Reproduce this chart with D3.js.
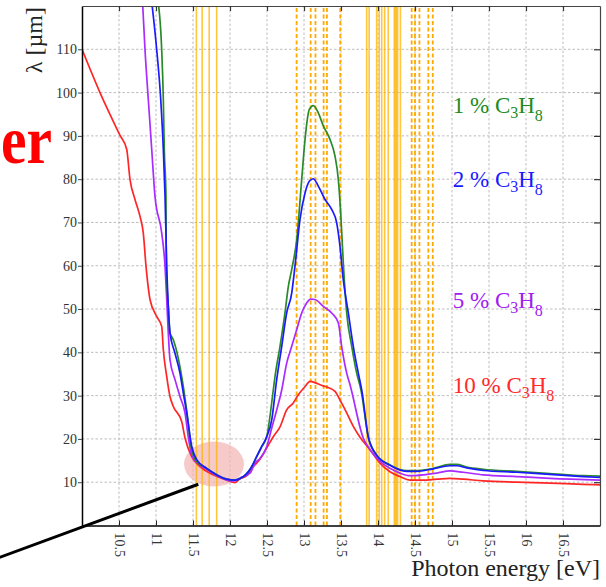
<!DOCTYPE html>
<html><head><meta charset="utf-8">
<script src="https://cdn.jsdelivr.net/npm/d3@7"></script>
<style>
body{margin:0;background:#fff}
svg{display:block}
text{font-family:"Liberation Serif","DejaVu Serif",serif}
</style>
</head><body>
<svg id="chart" width="606" height="587"></svg>
<script>
// ---------- data ----------
const xTicks = [10.5,11,11.5,12,12.5,13,13.5,14,14.5,15,15.5,16,16.5];
const yTicks = [10,20,30,40,50,60,70,80,90,100,110];

// orange reference lines (eV)
const solidLines = [11.546,11.624,11.719,11.82,13.847,13.88,13.982,14.016,14.05,14.09,14.138,14.22,14.235,14.25,14.265,14.303];
const dashedLines = [12.90,13.09,13.155,13.265,13.31,13.49,14.455,14.50,14.56,14.68,14.74];

// attenuation length λ [µm] vs photon energy [eV]
const c3h8_1 = [[11.02,122],[11.077,109.9],[11.099,98.4],[11.112,86.9],[11.135,76.1],[11.139,59.9],[11.166,50.6],[11.189,44.5],[11.234,42.9],[11.369,32.1],[11.419,26.0],[11.482,17.5],[11.55,14.8],[11.685,13.2],[11.82,11.7],[11.955,10.7],[12.068,10.5],[12.18,11.3],[12.247,12.4],[12.293,13.6],[12.36,15.9],[12.428,18.2],[12.496,20.5],[12.585,31.3],[12.608,34.4],[12.676,41.4],[12.743,49.1],[12.788,55.2],[12.834,59.1],[12.901,66.0],[12.969,79.9],[13.014,89.2],[13.072,96.1],[13.126,97.0],[13.193,95.3],[13.261,92.3],[13.351,89.2],[13.419,85.3],[13.464,79.9],[13.496,72.2],[13.531,60.7],[13.577,49.1],[13.645,41.4],[13.712,35.2],[13.77,31.3],[13.869,20.5],[13.982,16.3],[14.162,14.0],[14.388,12.7],[14.523,12.7],[14.747,13.2],[14.973,14.1],[15.063,14.1],[15.199,13.5],[15.423,13.0],[15.874,12.5],[16.324,12.0],[16.774,11.5],[17.0,11.4]];
const c3h8_2 = [[10.935,122],[11.009,110.0],[11.064,98.4],[11.099,86.9],[11.122,76.1],[11.145,59.9],[11.166,50.6],[11.189,44.5],[11.257,39.8],[11.324,35.2],[11.369,30.6],[11.415,26.0],[11.482,18.3],[11.55,15.2],[11.685,13.2],[11.82,11.7],[11.955,10.7],[12.068,10.5],[12.18,11.3],[12.247,12.4],[12.293,13.6],[12.36,15.9],[12.428,18.2],[12.496,20.5],[12.564,24.4],[12.631,33.7],[12.699,41.4],[12.766,49.1],[12.834,53.7],[12.878,59.9],[12.946,70.7],[13.014,76.8],[13.072,79.5],[13.126,80.1],[13.193,78.4],[13.284,75.3],[13.374,73.0],[13.442,69.9],[13.486,64.5],[13.531,56.8],[13.599,49.1],[13.666,41.4],[13.734,35.2],[13.784,30.9],[13.869,20.4],[13.982,16.2],[14.162,13.9],[14.388,12.5],[14.523,12.5],[14.747,13.1],[14.973,13.8],[15.063,13.8],[15.199,13.3],[15.423,12.7],[15.874,12.3],[16.324,11.8],[16.774,11.3],[17.0,11.1]];
const c3h8_5 = [[10.815,122],[10.851,110.0],[10.896,98.4],[10.942,86.9],[10.986,76.1],[11.077,67.6],[11.122,59.9],[11.145,52.2],[11.166,44.5],[11.189,38.3],[11.257,33.7],[11.324,29.8],[11.392,26.0],[11.436,20.5],[11.482,16.3],[11.55,14.6],[11.685,13.0],[11.82,11.5],[11.955,10.5],[12.068,10.3],[12.135,11.0],[12.27,12.1],[12.338,14.4],[12.405,15.5],[12.496,18.2],[12.564,22.5],[12.631,26.7],[12.699,31.3],[12.766,37.5],[12.834,41.4],[12.901,45.2],[12.969,49.1],[13.036,51.4],[13.09,52.3],[13.149,52.2],[13.261,50.6],[13.374,49.1],[13.464,46.8],[13.509,41.4],[13.577,35.2],[13.622,32.5],[13.801,20.2],[13.892,17.5],[14.027,14.8],[14.162,13.2],[14.297,12.1],[14.432,11.5],[14.612,11.7],[14.793,12.1],[14.973,12.6],[15.153,12.3],[15.423,11.7],[15.874,11.3],[16.324,10.9],[17.0,10.5]];
const c3h8_10 = [[10.0,110.0],[10.243,100.0],[10.514,90.1],[10.604,86.9],[10.649,79.9],[10.716,75.3],[10.784,71.4],[10.828,67.6],[10.865,59.9],[10.919,52.2],[11.009,48.3],[11.077,46.0],[11.099,40.6],[11.145,34.4],[11.189,29.8],[11.234,27.5],[11.347,24.0],[11.392,20.2],[11.482,15.9],[11.595,13.6],[11.774,11.7],[11.955,10.5],[12.068,9.9],[12.135,10.8],[12.226,11.5],[12.293,13.2],[12.36,14.4],[12.428,15.9],[12.496,17.9],[12.585,20.5],[12.676,22.8],[12.766,26.7],[12.855,28.3],[12.923,30.2],[13.014,32.1],[13.081,33.3],[13.149,33.0],[13.216,32.5],[13.307,32.0],[13.419,31.0],[13.486,29.0],[13.577,26.0],[13.666,22.9],[13.757,20.4],[13.892,17.5],[14.027,14.4],[14.162,12.4],[14.297,11.3],[14.432,10.5],[14.612,10.5],[14.793,10.7],[14.973,10.9],[15.153,10.7],[15.423,10.3],[15.874,10.0],[16.324,9.8],[16.774,9.5],[17.0,9.4]];

const seriesColors = ["#ff2626","#aa2bff","#2a8a2a","#1a1aff"];
const seriesData = [c3h8_10, c3h8_5, c3h8_1, c3h8_2];

// legend labels: [percent, color, energy, lambda]
const legendItems = [["1","#228b22",15.01,95.2],["2","#1a1aff",15.01,78.1],["5","#a020f0",15.01,50.2],["10","#ff2a2a",15.01,30.6]];

// annotations (data units)
const highlight = {e:11.784, v:14.2, re:0.405, rv:5.2};
const pointer = [[8.85,-7.6],[11.572,9.53]];

// ---------- drawing ----------
const svg = d3.select("#chart");
const W = 606, H = 587;
const m = {l:82, r:6, t:6, b:61.5};
const x = d3.scaleLinear([10,17],[m.l, W-m.r]);
const y = d3.scaleLinear([0,120],[H-m.b, m.t]);

svg.append("defs").append("clipPath").attr("id","clip")
  .append("rect").attr("x",m.l).attr("y",m.t).attr("width",W-m.l-m.r).attr("height",H-m.t-m.b);

// grid
const grid = svg.append("g").attr("stroke","#bdbdbd").attr("stroke-width",1).attr("stroke-dasharray","2.5,2");
grid.selectAll(".gx").data(xTicks).join("line")
  .attr("x1",d=>x(d)).attr("x2",d=>x(d)).attr("y1",y(0)).attr("y2",y(120));
grid.selectAll(".gy").data(yTicks).join("line")
  .attr("x1",x(10)).attr("x2",x(17)).attr("y1",d=>y(d)).attr("y2",d=>y(d));

// highlight ellipse
svg.append("ellipse")
  .attr("cx",x(highlight.e)).attr("cy",y(highlight.v))
  .attr("rx",x(highlight.e+highlight.re)-x(highlight.e))
  .attr("ry",y(highlight.v-highlight.rv)-y(highlight.v))
  .attr("fill","#f3b3b3").attr("opacity",0.7);

// orange lines
const ol = svg.append("g");
ol.selectAll(".s").data(solidLines).join("line")
  .attr("x1",d=>x(d)).attr("x2",d=>x(d)).attr("y1",y(0)).attr("y2",y(120))
  .attr("stroke","#ffb300").attr("stroke-opacity",0.75).attr("stroke-width",1.6);
ol.selectAll(".d").data(dashedLines).join("line")
  .attr("x1",d=>x(d)).attr("x2",d=>x(d)).attr("y1",y(0)).attr("y2",y(120))
  .attr("stroke","#ffaa00").attr("stroke-width",1.8).attr("stroke-dasharray","4,2.5");

// curves
const line = d3.line().x(d=>x(d[0])).y(d=>y(d[1])).curve(d3.curveMonotoneX);
const cg = svg.append("g").attr("clip-path","url(#clip)");
cg.selectAll("path").data(seriesData).join("path")
  .attr("d",line).attr("fill","none")
  .attr("stroke",(d,i)=>seriesColors[i]).attr("stroke-width",1.7);

// axes
const fmt = d=>String(d);
const gB = svg.append("g").attr("transform",`translate(0,${y(0)})`)
  .call(d3.axisBottom(x).tickValues(xTicks).tickSizeInner(-5).tickSizeOuter(0).tickFormat(fmt));
gB.selectAll("text").attr("transform","rotate(90)").attr("x",7).attr("y",0).attr("dy","0.35em")
  .attr("text-anchor","start").attr("font-size",14).attr("fill","#333");
gB.select(".domain").attr("stroke","#000").attr("stroke-width",1.5);
gB.selectAll(".tick line").attr("stroke","#222");

const gL = svg.append("g").attr("transform",`translate(${x(10)},0)`)
  .call(d3.axisLeft(y).tickValues(yTicks).tickSizeInner(4).tickSizeOuter(0).tickPadding(1).tickFormat(fmt));
gL.selectAll("text").attr("font-size",14).attr("fill","#333");
gL.select(".domain").attr("stroke","#000").attr("stroke-width",1.5);
gL.selectAll(".tick line").attr("stroke","#444");

const gT = svg.append("g").attr("transform",`translate(0,${y(120)})`)
  .call(d3.axisTop(x).tickValues(xTicks).tickSizeInner(-5).tickSizeOuter(0).tickFormat(""));
gT.select(".domain").attr("stroke","#444").attr("stroke-width",1.2);
gT.selectAll(".tick line").attr("stroke","#333").attr("stroke-width",1.2);

const gR = svg.append("g").attr("transform",`translate(${x(17)},0)`)
  .call(d3.axisRight(y).tickValues(yTicks).tickSizeInner(-6).tickSizeOuter(0).tickFormat(""));
gR.select(".domain").attr("stroke","#444").attr("stroke-width",1.2);
gR.selectAll(".tick line").attr("stroke","#333").attr("stroke-width",1.2);

// axis titles
svg.append("text").attr("transform",`translate(42,${y(120)+1}) rotate(-90)`)
  .attr("text-anchor","end").attr("font-size",24).attr("fill","#222").text("λ [µm]");
svg.append("text").attr("x",600).attr("y",576).attr("text-anchor","end")
  .attr("font-size",24).attr("fill","#222").text("Photon energy [eV]");

// legend labels
legendItems.forEach(([p,col,e,v])=>{
  const t = svg.append("text").attr("x",x(e)).attr("y",y(v)).attr("font-size",23).attr("fill",col);
  t.append("tspan").text(p+" % C");
  t.append("tspan").attr("font-size",16).attr("dy",5).text("3");
  t.append("tspan").attr("dy",-5).text("H");
  t.append("tspan").attr("font-size",16).attr("dy",8).text("8");
});

// red partial title text
svg.append("text").attr("x",1).attr("y",163).attr("text-anchor","start")
  .attr("font-size",68).attr("font-weight","bold").attr("fill","#ff0000")
  .attr("textLength",51).attr("lengthAdjust","spacingAndGlyphs").text("er");

// pointer line
svg.append("line")
  .attr("x1",x(pointer[0][0])).attr("y1",y(pointer[0][1]))
  .attr("x2",x(pointer[1][0])).attr("y2",y(pointer[1][1]))
  .attr("stroke","#000").attr("stroke-width",3);
</script>
</body></html>
